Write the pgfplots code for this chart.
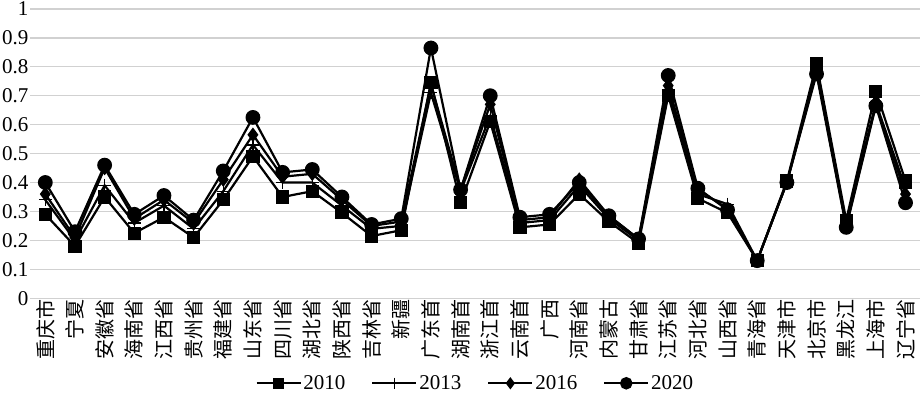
\documentclass[border=0pt]{standalone}
\usepackage{pgfplots}
\pgfplotsset{compat=1.18}
\usepackage{pgfplotstable}
\usepackage{fontspec}
\setmainfont{Liberation Serif}
\newfontfamily\cjk{Noto Sans CJK SC}
\pgfplotstableread{
x a b c d
0 0.29 0.34 0.36 0.40
1 0.18 0.20 0.21 0.23
2 0.35 0.39 0.45 0.46
3 0.225 0.26 0.275 0.29
4 0.28 0.32 0.34 0.355
5 0.21 0.24 0.26 0.27
6 0.34 0.37 0.41 0.44
7 0.49 0.53 0.565 0.625
8 0.35 0.40 0.42 0.435
9 0.37 0.40 0.43 0.445
10 0.295 0.32 0.34 0.35
11 0.215 0.24 0.25 0.255
12 0.235 0.25 0.265 0.275
13 0.745 0.71 0.74 0.865
14 0.33 0.37 0.375 0.375
15 0.61 0.63 0.67 0.70
16 0.245 0.26 0.27 0.28
17 0.255 0.27 0.28 0.29
18 0.36 0.39 0.41 0.40
19 0.265 0.275 0.285 0.285
20 0.19 0.20 0.205 0.205
21 0.70 0.72 0.735 0.77
22 0.345 0.36 0.375 0.38
23 0.295 0.325 0.31 0.305
24 0.13 0.13 0.13 0.13
25 0.405 0.40 0.40 0.40
26 0.81 0.79 0.785 0.775
27 0.27 0.26 0.25 0.245
28 0.715 0.675 0.67 0.665
29 0.405 0.38 0.36 0.33
}\data
\begin{document}
\begin{tikzpicture}
\begin{axis}[
  scale only axis,
  width=889pt, height=289pt,
  xmin=-0.5, xmax=29.5, ymin=0, ymax=1,
  ytick={0,0.1,0.2,0.3,0.4,0.5,0.6,0.7,0.8,0.9,1},
  xtick={0,...,29},
  xticklabels={重庆市,宁夏,安徽省,海南省,江西省,贵州省,福建省,山东省,四川省,湖北省,陕西省,吉林省,新疆,广东首,湖南首,浙江首,云南首,广西,河南省,内蒙古,甘肃省,江苏省,河北省,山西省,青海省,天津市,北京市,黑龙江,上海市,辽宁省},
  xticklabel style={rotate=90, anchor=east, font=\cjk\fontsize{20}{20}\selectfont, inner sep=1pt},
  yticklabel style={font=\fontsize{21}{21}\selectfont, inner sep=2pt},
  /pgf/number format/assume math mode=true,
  axis line style={draw=none},
  major tick length=0pt,
  ymajorgrids,
  grid style={line width=1.3pt, color=black!18},
  every axis plot/.append style={line width=2.2pt, black},
  legend columns=4,
  legend style={draw=none, at={(0.5,-0.294)}, anchor=center, font=\fontsize{21}{21}\selectfont,
    /tikz/every even column/.append style={column sep=24pt}},
  legend image code/.code={\draw[mark repeat=2,mark phase=2,line width=1.8pt,mark options={scale=0.85}] plot coordinates {(0pt,0pt) (22pt,0pt) (44pt,0pt)};},
]
\addplot[mark=square*, mark size=5.5pt] table[x=x,y=a]{\data};
\addplot[mark=+, mark size=6.5pt, mark options={line width=1.2pt}] table[x=x,y=b]{\data};
\addplot[mark=diamond*, mark size=5.5pt] table[x=x,y=c]{\data};
\addplot[mark=*, mark size=6.3pt] table[x=x,y=d]{\data};
\legend{2010,2013,2016,2020}
\end{axis}
\end{tikzpicture}
\end{document}
